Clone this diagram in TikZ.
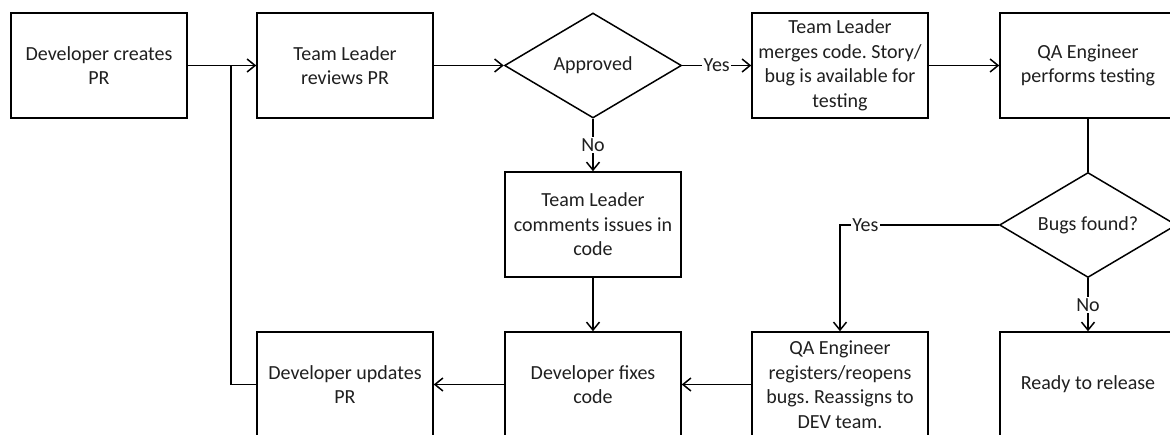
\documentclass[tikz,border=0pt]{standalone}
\usepackage{fontspec}
\setmainfont{Carlito}
\usetikzlibrary{arrows.meta,shapes.geometric}
\frenchspacing

\tikzset{
  flowtext/.style={font=\fontsize{20}{24.5}\selectfont, text=black!88},
  procbox/.style={flowtext, draw, line width=1.5pt, minimum width=176pt,
    minimum height=105pt, inner sep=0pt, align=center},
  decision/.style={flowtext, draw, diamond, line width=1.5pt, minimum width=177pt,
    minimum height=105pt, inner sep=0pt, shape aspect=1.68},
  flowarrow/.style={line width=1.5pt, -{Straight Barb[length=8pt,width=13pt,line width=1.5pt]}},
  flowline/.style={line width=1.5pt},
  edgelabel/.style={flowtext, fill=white, inner sep=1.5pt}
}

\begin{document}
\begin{tikzpicture}[x=1pt, y=-1pt]
  \useasboundingbox (0,0) rectangle (1170,434);

  % top row
  \node[procbox]  (dcreate)  at (99,65.5)   {Developer creates\\PR};
  \node[procbox]  (review)   at (345,65.5)  {Team Leader\\reviews PR};
  \node[decision] (approved) at (593,65.5)  {Approved};
  \node[procbox]  (merge)    at (840,65.5)  {Team Leader\\merges code. Story/\\bug is available for\\testing};
  \node[procbox]  (testing)  at (1088,65.5) {QA Engineer\\performs testing};

  % middle row
  \node[procbox]  (comments) at (593,224.5) {Team Leader\\comments issues in\\code};
  \node[decision] (bugs)     at (1088,225)  {Bugs found?};

  % bottom row
  \node[procbox]  (updates)  at (345,384.5)  {Developer updates\\PR};
  \node[procbox]  (fixes)    at (593,384.5)  {Developer fixes\\code};
  \node[procbox]  (register) at (840,384.5)  {QA Engineer\\registers/reopens\\bugs. Reassigns to\\DEV team.};
  \node[procbox]  (release)  at (1088,384.5) {Ready to release};

  \coordinate (join) at (231,65.5);

  % connectors
  \draw[flowarrow] (dcreate.east) -- (review.west);
  \draw[flowarrow] (review.east) -- (approved.west);
  \draw[flowarrow] (approved.east) -- node[edgelabel]{Yes} (merge.west);
  \draw[flowarrow] (approved.south) -- node[edgelabel]{No} (comments.north);
  \draw[flowarrow] (merge.east) -- (testing.west);
  \draw[flowline]  (testing.south) -- (bugs.north);
  \draw[flowarrow] (bugs.west) -| node[pos=0.42, edgelabel]{Yes} (register.north);
  \draw[flowarrow] (bugs.south) -- node[edgelabel]{No} (release.north);
  \draw[flowarrow] (comments.south) -- (fixes.north);
  \draw[flowarrow] (register.west) -- (fixes.east);
  \draw[flowarrow] (fixes.west) -- (updates.east);
  \draw[flowline]  (updates.west) -| (join);
\end{tikzpicture}
\end{document}
